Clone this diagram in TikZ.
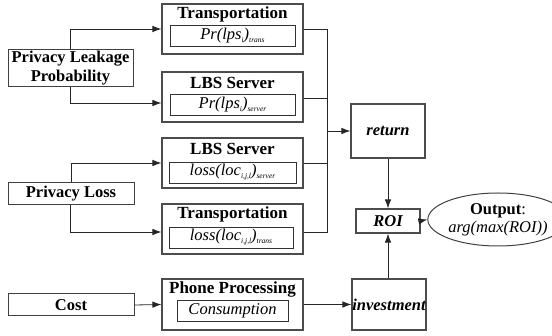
\documentclass[tikz,border=0pt]{standalone}
\usepackage{fontspec}
\setmainfont{Liberation Serif}
\usetikzlibrary{arrows.meta,shapes.geometric}

% small lowered italic index used in the formula boxes
\newcommand\lowidx[1]{\raisebox{-3pt}{\fontsize{7.5}{8}\selectfont\itshape #1}}

\tikzset{
  outer/.style={draw=black!70, line width=1.1pt, inner sep=0pt},
  inner/.style={draw=black!80, line width=0.8pt, inner sep=0pt,
    font=\fontsize{16.5}{18}\selectfont\itshape},
  srcbox/.style={draw=black!75, line width=1pt, inner sep=0pt, align=center,
    font=\fontsize{16.5}{19}\selectfont\bfseries},
  title/.style={inner sep=0pt, font=\fontsize{17}{19}\selectfont\bfseries},
  result/.style={outer, font=\fontsize{16.5}{19}\selectfont\bfseries\itshape},
  link/.style={draw=black!85, line width=0.8pt},
  arr/.style={link, -{Latex[length=9pt,width=6.5pt]}},
}

\begin{document}
\begin{tikzpicture}[x=1pt, y=-1pt]
\useasboundingbox (0,0) rectangle (552,336);

% input boxes on the left
\node[srcbox, minimum width=125pt, minimum height=37pt] (plp) at (70.5,68.5)
  {Privacy Leakage\\Probability};
\node[srcbox, minimum width=126pt, minimum height=22pt] (pl) at (71,193.5) {Privacy Loss};
\node[srcbox, minimum width=126pt, minimum height=22pt] (cost) at (71,305) {Cost};

% middle column: titled boxes with an inner formula box
\node[outer, minimum width=141pt, minimum height=50pt] (t1) at (232.5,29) {};
\node[title] (t1t) at (232.5,14.5) {Transportation};
\node[inner, minimum width=125pt, minimum height=21pt] (t1i) at (232.5,35.5)
  {Pr(lps\lowidx{i})\lowidx{trans}};

\node[outer, minimum width=141pt, minimum height=50pt] (l1) at (232.5,97) {};
\node[title] (l1t) at (232.5,82.5) {LBS Server};
\node[inner, minimum width=125pt, minimum height=21pt] (l1i) at (232.5,104.5)
  {Pr(lps\lowidx{i})\lowidx{server}};

\node[outer, minimum width=141pt, minimum height=50pt] (l2) at (232.5,163) {};
\node[title] (l2t) at (232.5,148.5) {LBS Server};
\node[inner, minimum width=127pt, minimum height=21pt] (l2i) at (232.5,172.5)
  {loss(loc\lowidx{i,j,l})\lowidx{server}};

\node[outer, minimum width=141pt, minimum height=50pt] (t2) at (232.5,229) {};
\node[title] (t2t) at (232.5,214.5) {Transportation};
\node[inner, minimum width=124pt, minimum height=21pt] (t2i) at (231,237.5)
  {loss(loc\lowidx{i,j,l})\lowidx{trans}};

\node[outer, minimum width=141pt, minimum height=51pt] (pp) at (232.5,304.5) {};
\node[title] (ppt) at (232.5,289.5) {Phone Processing};
\node[inner, minimum width=111pt, minimum height=21pt] (ppi) at (232.5,310.5)
  {Consumption};

% right column
\node[result, minimum width=74pt, minimum height=54pt] (ret) at (388,131) {return};
\node[result, minimum width=64pt, minimum height=24pt] (roi) at (388,221) {ROI};
\node[result, minimum width=74pt, minimum height=51pt] (inv) at (389,304.5) {investment};
\node[ellipse, draw=black!75, line width=1pt, inner sep=0pt,
  minimum width=106pt, minimum height=53pt, align=center,
  font=\fontsize{16.5}{18}\selectfont] (out) at (498,219.5)
  {\textbf{Output}:\\\textit{arg(max(ROI))}};

% fan-out from the input boxes
\draw[arr] (plp.north) |- (t1.west);
\draw[arr] (plp.south) |- ([yshift=-6pt]l1.west);
\draw[arr] (pl.north) |- (l2.west);
\draw[arr] ([xshift=-0.5pt]pl.south) |- ([yshift=-3pt]t2.west);
\draw[arr] (cost.east) -- (pp.west);

% collecting bus into the return box
\coordinate (bus) at (327,0);
\draw[link] (t1.east) -- (t1.east -| bus) -- ([yshift=-3pt]t2.east -| bus)
  -- ([yshift=-3pt]t2.east);
\draw[link] ([yshift=-1pt]l1.east) -- ([yshift=-1pt]l1.east -| bus);
\draw[link] (l2.east) -- (l2.east -| bus);
\draw[arr] (ret.west -| bus) -- (ret.west);

% towards the result
\draw[arr] (pp.east) -- (inv.west);
\draw[arr] (ret.south) -- (roi.north);
\draw[arr] (inv.north -| roi.south) -- (roi.south);
\draw[arr] (roi.east) -- (out.west);
\end{tikzpicture}
\end{document}
